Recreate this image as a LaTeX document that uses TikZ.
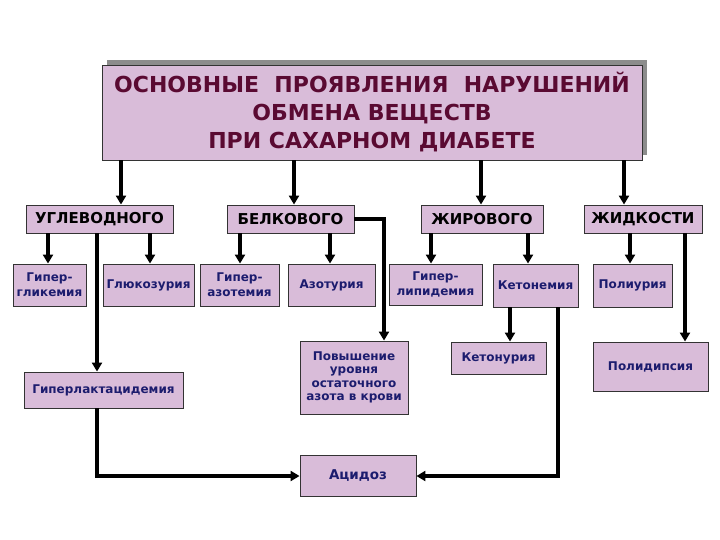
\documentclass[tikz,border=0pt]{standalone}
\usepackage{fontspec}
\setmainfont{DejaVu Sans}
\usetikzlibrary{arrows.meta}
\definecolor{boxfill}{HTML}{D9BCD9}
\definecolor{titletext}{HTML}{5A0A32}
\definecolor{navytext}{HTML}{1C1C6E}
\definecolor{shadowgray}{HTML}{8C8C8C}
\tikzset{
  box/.style={draw=black!80, line width=0.9pt, fill=boxfill, inner sep=1pt, align=center, font=\bfseries},
  cat/.style={box, font=\fontsize{15}{17}\selectfont\bfseries, text=black},
  small/.style={box, font=\fontsize{12}{15}\selectfont\bfseries, text=navytext},
  arr/.style={line width=3.2pt, -{Triangle[length=9pt,width=10pt]}},
  link/.style={line width=3.2pt}
}
\begin{document}
\begin{tikzpicture}[x=1pt,y=-1pt]
\useasboundingbox (0,0) rectangle (720,540);
\fill[white] (0,0) rectangle (720,540);
% title
\fill[shadowgray] (107,60) rectangle (647,155);
\node[box, minimum width=540pt, minimum height=95pt, text=titletext,
      font=\fontsize{22}{28}\selectfont\bfseries] (title) at (372,112.5)
  {ОСНОВНЫЕ\ \ ПРОЯВЛЕНИЯ\ \ НАРУШЕНИЙ\\ОБМЕНА ВЕЩЕСТВ\\ПРИ САХАРНОМ ДИАБЕТЕ};
% categories
\node[cat, minimum width=147pt, minimum height=28pt] (ug) at (99.5,219) {УГЛЕВОДНОГО};
\node[cat, minimum width=127pt, minimum height=28pt] (bel) at (290.5,219) {БЕЛКОВОГО};
\node[cat, minimum width=122pt, minimum height=28pt] (zhir) at (482,219) {ЖИРОВОГО};
\node[cat, minimum width=118pt, minimum height=28pt] (zhid) at (643,219) {ЖИДКОСТИ};
% second level
\node[small, minimum width=73pt, minimum height=42pt] (gg) at (49.5,285) {Гипер-\\гликемия};
\node[small, minimum width=91pt, minimum height=42pt] (gl) at (148.5,285) {Глюкозурия};
\node[small, minimum width=79pt, minimum height=42pt] (ga) at (239.5,285) {Гипер-\\азотемия};
\node[small, minimum width=87pt, minimum height=42pt] (az) at (331.5,285) {Азотурия};
\node[small, minimum width=93pt, minimum height=41pt] (gli) at (435.5,284.5) {Гипер-\\липидемия};
\node[small, minimum width=85pt, minimum height=43pt] (ket) at (535.5,285.5) {Кетонемия};
\node[small, minimum width=79pt, minimum height=43pt] (pol) at (632.5,285.5) {Полиурия};
% third level
\node[small, minimum width=159pt, minimum height=36pt] (glak) at (103.5,390) {Гиперлактацидемия};
\node[small, minimum width=108pt, minimum height=73pt, font=\fontsize{12}{13.5}\selectfont\bfseries] (pov) at (354,377.5) {Повышение\\уровня\\остаточного\\азота в крови};
\node[small, minimum width=95pt, minimum height=32pt] (ketu) at (498.5,358) {Кетонурия};
\node[small, minimum width=115pt, minimum height=49pt] (poldip) at (650.5,366.5) {Полидипсия};
\node[small, minimum width=116pt, minimum height=41pt, font=\fontsize{13.5}{15}\selectfont\bfseries] (acid) at (358,476) {Ацидоз};
% connectors from title
\draw[arr] (title.south -| 121,0) -- (ug.north -| 121,0);
\draw[arr] (title.south -| 294,0) -- (bel.north -| 294,0);
\draw[arr] (title.south -| 481,0) -- (zhir.north -| 481,0);
\draw[arr] (title.south -| 624,0) -- (zhid.north -| 624,0);
% from categories
\draw[arr] (ug.south -| 48,0) -- (gg.north -| 48,0);
\draw[arr] (ug.south -| 150,0) -- (gl.north -| 150,0);
\draw[arr] (ug.south -| 97,0) -- (glak.north -| 97,0);
\draw[arr] (bel.south -| 240,0) -- (ga.north -| 240,0);
\draw[arr] (bel.south -| 330,0) -- (az.north -| 330,0);
\draw[arr] (bel.east) -| (pov.north -| 384,0);
\draw[arr] (zhir.south -| 431,0) -- (gli.north -| 431,0);
\draw[arr] (zhir.south -| 528,0) -- (ket.north -| 528,0);
\draw[arr] (zhid.south -| 630,0) -- (pol.north -| 630,0);
\draw[arr] (zhid.south -| 685,0) -- (poldip.north -| 685,0);
\draw[arr] (ket.south -| 510,0) -- (ketu.north -| 510,0);
% to acidosis
\draw[arr] (glak.south -| 97,0) |- (acid.west);
\draw[arr] (ket.south -| 558,0) |- (acid.east);
\end{tikzpicture}
\end{document}
